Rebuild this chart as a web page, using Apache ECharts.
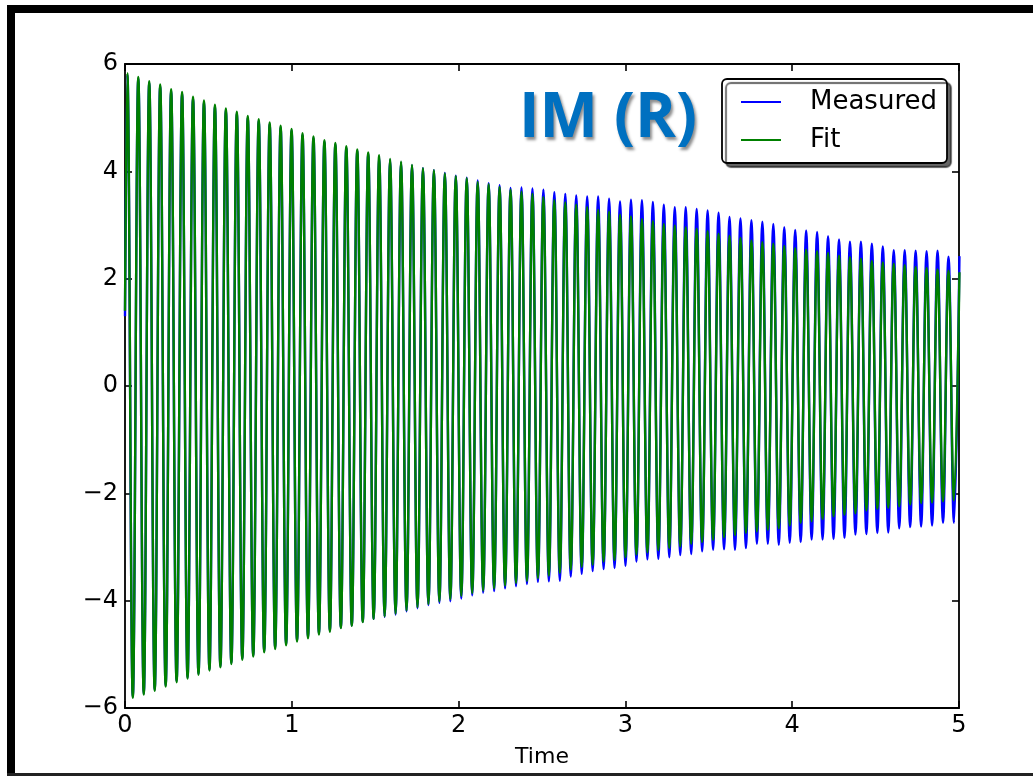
<!DOCTYPE html>
<html><head><meta charset="utf-8">
<script src="https://cdn.jsdelivr.net/npm/echarts@6/dist/echarts.min.js"></script>
<style>html,body{margin:0;padding:0;background:#fff}#c{width:1033px;height:776px}</style>
</head><body><div id="c"></div>
<script>
// Axis ticks
const xTicks = [0, 1, 2, 3, 4, 5];
const yTicks = [-6, -4, -2, 0, 2, 4, 6];
// Time of first crest and half-period
const firstPeakTime = 0.014;
const halfPeriod = 0.03282;
// Value at t = 0
const measuredStart = 1.3;
const fitStart = 1.4;
// Fit: crest values (one per cycle) and trough values
const fitPeaks = [5.83,5.76,5.68,5.62,5.53,5.48,5.39,5.32,5.24,5.17,5.11,5.03,4.97,4.91,4.85,4.79,4.71,4.65,4.58,4.53,
  4.47,4.41,4.35,4.30,4.23,4.18,4.12,4.06,4.02,3.96,3.91,3.87,3.80,3.76,3.71,3.66,3.62,3.58,3.52,3.46,
  3.42,3.38,3.33,3.28,3.25,3.19,3.16,3.11,3.07,3.02,2.99,2.96,2.93,2.89,2.84,2.80,2.76,2.71,2.68,2.65,
  2.61,2.57,2.54,2.51,2.48,2.43,2.40,2.37,2.33,2.30,2.28,2.25,2.22,2.20,2.17,2.15,2.12];
const fitTroughs = [-5.81,-5.75,-5.68,-5.60,-5.52,-5.45,-5.38,-5.30,-5.24,-5.18,-5.10,-5.04,-4.96,-4.90,-4.83,-4.76,-4.70,-4.63,-4.58,-4.51,
  -4.47,-4.40,-4.34,-4.29,-4.24,-4.18,-4.12,-4.06,-4.01,-3.97,-3.91,-3.86,-3.81,-3.77,-3.72,-3.67,-3.63,-3.58,-3.53,-3.48,
  -3.42,-3.37,-3.33,-3.27,-3.24,-3.19,-3.14,-3.10,-3.06,-3.02,-2.99,-2.94,-2.91,-2.87,-2.82,-2.78,-2.74,-2.71,-2.68,-2.65,
  -2.60,-2.55,-2.52,-2.48,-2.43,-2.40,-2.37,-2.32,-2.29,-2.27,-2.24,-2.21,-2.18,-2.17,-2.15,-2.13];
// Measured: crest values and trough values
const measuredPeaks = [5.80,5.73,5.65,5.59,5.50,5.45,5.36,5.29,5.21,5.14,5.08,5.00,4.94,4.88,4.82,4.76,4.68,4.62,4.55,4.50,
  4.44,4.38,4.32,4.27,4.21,4.16,4.11,4.06,4.02,3.97,3.92,3.88,3.83,3.78,3.74,3.69,3.70,3.68,3.66,3.61,
  3.58,3.55,3.53,3.53,3.49,3.44,3.47,3.46,3.43,3.38,3.33,3.33,3.30,3.27,3.23,3.15,3.12,3.09,3.06,3.02,
  2.96,2.91,2.90,2.87,2.79,2.73,2.69,2.69,2.65,2.60,2.53,2.53,2.52,2.51,2.52,2.41,2.42];
const measuredTroughs = [-5.79,-5.73,-5.66,-5.58,-5.50,-5.43,-5.36,-5.28,-5.22,-5.16,-5.08,-5.02,-4.94,-4.88,-4.81,-4.74,-4.68,-4.61,-4.56,-4.50,
  -4.46,-4.39,-4.34,-4.30,-4.26,-4.20,-4.14,-4.08,-4.04,-4.01,-3.96,-3.90,-3.85,-3.82,-3.77,-3.73,-3.69,-3.65,-3.64,-3.63,
  -3.55,-3.50,-3.45,-3.41,-3.39,-3.35,-3.27,-3.23,-3.22,-3.19,-3.15,-3.13,-3.08,-3.05,-3.04,-3.05,-3.02,-2.94,-2.94,-2.96,
  -2.92,-2.91,-2.86,-2.86,-2.85,-2.83,-2.77,-2.76,-2.74,-2.73,-2.65,-2.63,-2.62,-2.60,-2.55,-2.55];

function build(start, peaks, troughs) {
  const d = [[0, start]];
  for (let k = 0; k < peaks.length; k++) {
    d.push([firstPeakTime + 2 * k * halfPeriod, peaks[k]]);
    if (k < troughs.length) d.push([firstPeakTime + (2 * k + 1) * halfPeriod, troughs[k]]);
  }
  return d;
}

const FONT = 'DejaVu Sans';
const minus = v => String(v).replace('-', '\u2212');
const tick = {inside: true, length: 7, lineStyle: {color: '#000', width: 1.6}};
function xAx(pos, labels) {
  return {type: 'value', position: pos, min: xTicks[0], max: xTicks[xTicks.length - 1], interval: 1,
    axisLine: {show: false, onZero: false}, axisTick: tick, splitLine: {show: false},
    axisLabel: {show: labels, fontSize: 24, fontFamily: FONT, color: '#000', margin: 6},
    name: labels ? 'Time' : '', nameLocation: 'middle', nameGap: 38,
    nameTextStyle: {fontSize: 22, fontFamily: FONT, color: '#000'}};
}
function yAx(pos, labels) {
  return {type: 'value', position: pos, min: yTicks[0], max: yTicks[yTicks.length - 1], interval: 2,
    axisLine: {show: false, onZero: false}, axisTick: tick, splitLine: {show: false},
    axisLabel: {show: labels, fontSize: 24, fontFamily: FONT, color: '#000', margin: 7, formatter: minus}};
}

const chart = echarts.init(document.getElementById('c'), null, {renderer: 'canvas'});
chart.setOption({
  animation: false,
  backgroundColor: '#fff',
  title: {text: 'IM (R)', left: 519, top: 88, padding: 0,
    textStyle: {fontFamily: 'Open Sans', fontWeight: 'bold', fontSize: 62, color: '#0070c0',
      textShadowColor: 'rgba(0,0,0,0.45)', textShadowBlur: 3, textShadowOffsetX: 2, textShadowOffsetY: 3}},
  grid: {left: 125, right: 74, top: 64, bottom: 68, show: true, borderColor: '#000', borderWidth: 1.8,
    backgroundColor: 'transparent'},
  xAxis: [xAx('bottom', true), xAx('top', false)],
  yAxis: [yAx('left', true), yAx('right', false)],
  legend: {orient: 'vertical', left: 722, top: 79, padding: [10, 10, 10, 19], itemWidth: 40, itemHeight: 2, itemGap: 12,
    icon: 'rect',
    backgroundColor: '#fff', borderColor: '#000', borderWidth: 1.8, borderRadius: 5,
    shadowColor: 'rgba(0,0,0,0.6)', shadowOffsetX: 4, shadowOffsetY: 4, shadowBlur: 1,
    textStyle: {fontSize: 26, fontFamily: FONT, color: '#000', padding: [0, 0, 0, 24]},
    data: ['Measured', 'Fit']},
  series: [
    {name: 'Measured', type: 'line', data: build(measuredStart, measuredPeaks, measuredTroughs),
      symbol: 'none', smooth: 0.4, lineStyle: {color: '#0000ff', width: 2.4}, itemStyle: {color: '#0000ff'}},
    {name: 'Fit', type: 'line', data: build(fitStart, fitPeaks, fitTroughs),
      symbol: 'none', smooth: 0.4, lineStyle: {color: '#008000', width: 2.4}, itemStyle: {color: '#008000'}}
  ],
  graphic: [
    {type: 'rect', shape: {x: 7, y: 5, width: 1026, height: 8}, style: {fill: '#000'}, silent: true},
    {type: 'rect', shape: {x: 7, y: 5, width: 8, height: 771}, style: {fill: '#000'}, silent: true},
    {type: 'rect', shape: {x: 7, y: 773, width: 1026, height: 3}, style: {fill: '#222'}, silent: true}
  ]
});
</script>
</body></html>
